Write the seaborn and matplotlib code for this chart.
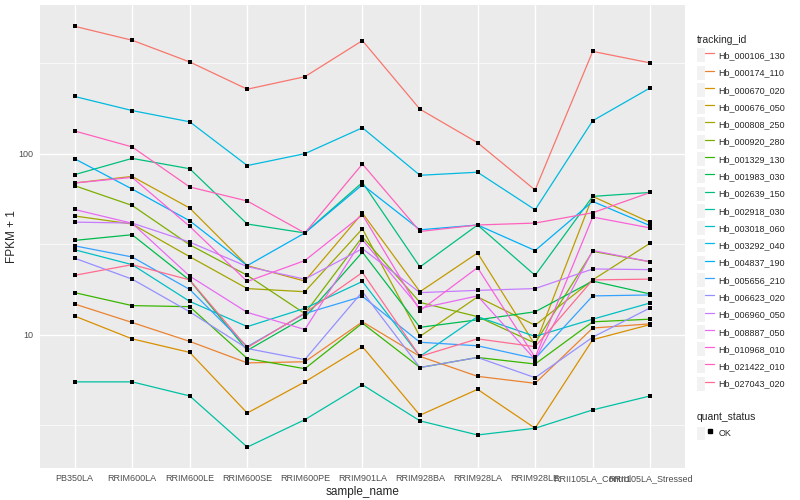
import pandas as pd
import matplotlib.pyplot as plt
import seaborn as sns
from matplotlib.lines import Line2D
from matplotlib.patches import Patch
from matplotlib.legend_handler import HandlerTuple
from matplotlib.ticker import NullFormatter

# --- Data (FPKM + 1, one value per sample) ---
samples = ['PB350LA', 'RRIM600LA', 'RRIM600LE', 'RRIM600SE', 'RRIM600PE', 'RRIM901LA',
           'RRIM928BA', 'RRIM928LA', 'RRIM928LE', 'RRII105LA_Control', 'RRII105LA_Stressed']

tracking_ids = ['Hb_000106_130', 'Hb_000174_110', 'Hb_000670_020', 'Hb_000676_050',
                'Hb_000808_250', 'Hb_000920_280', 'Hb_001329_130', 'Hb_001983_030',
                'Hb_002639_150', 'Hb_002918_030', 'Hb_003018_060', 'Hb_003292_040',
                'Hb_004837_190', 'Hb_005656_210', 'Hb_006623_020', 'Hb_006960_050',
                'Hb_008887_050', 'Hb_010968_010', 'Hb_021422_010', 'Hb_027043_020']

hb_000106_130 = [505, 423, 321, 227, 266, 421, 176, 115, 63, 367, 317]
hb_000174_110 = [14.8, 11.7, 9.2, 7.0, 7.1, 11.8, 7.6, 5.9, 5.4, 10.9, 11.5]
hb_000670_020 = [12.7, 9.5, 8.0, 3.7, 5.5, 8.6, 3.6, 5.0, 3.05, 9.4, 11.4]
hb_000676_050 = [68.9, 74.9, 50.1, 24.1, 19.8, 47.0, 17.3, 28.3, 8.8, 58.1, 41.7]
hb_000808_250 = [45.3, 40.9, 27.0, 18.0, 17.3, 38.5, 9.8, 16.2, 11.3, 20.1, 32.1]
hb_000920_280 = [66.6, 51.8, 31.4, 21.3, 13.1, 34.7, 15.1, 12.6, 9.0, 28.9, 25.3]
hb_001329_130 = [17.1, 14.5, 14.3, 7.4, 6.5, 11.6, 6.6, 7.5, 6.9, 11.8, 12.2]
hb_001983_030 = [33.2, 35.7, 20.0, 8.2, 12.5, 28.6, 11.0, 12.1, 13.4, 19.8, 16.8]
hb_002639_150 = [76.6, 94.2, 82.6, 40.9, 36.5, 69.4, 23.7, 40.4, 21.3, 58.1, 61.1]
hb_002918_030 = [5.5, 5.5, 4.6, 2.4, 3.4, 5.3, 3.35, 2.8, 3.05, 3.85, 4.6]
hb_003018_060 = [29.5, 24.4, 15.3, 11.1, 14.0, 19.7, 7.6, 12.6, 9.8, 12.2, 15.0]
hb_003292_040 = [207, 173, 150, 86, 100, 139, 76, 79, 49, 152, 231]
hb_004837_190 = [93.8, 63.8, 42.6, 24.1, 36.5, 67.4, 38.0, 40.4, 29.2, 54.5, 40.0]
hb_005656_210 = [31.0, 26.9, 17.8, 8.6, 13.1, 16.3, 9.1, 8.7, 7.4, 16.4, 16.6]
hb_006623_020 = [26.5, 20.3, 13.4, 8.4, 7.3, 17.3, 6.6, 7.5, 5.8, 9.7, 14.1]
hb_006960_050 = [41.9, 41.4, 32.5, 23.8, 20.3, 29.9, 17.1, 17.6, 18.0, 23.1, 22.9]
hb_008887_050 = [49.2, 41.3, 21.1, 13.3, 10.7, 33.5, 14.0, 16.4, 7.3, 29.2, 25.3]
hb_010968_010 = [68.9, 74.0, 39.7, 19.7, 25.7, 46.0, 13.6, 23.5, 7.5, 44.7, 38.9]
hb_021422_010 = [133.5, 109, 65.5, 54.8, 36.5, 87.7, 37.2, 40.4, 41.4, 47.2, 61.1]
hb_027043_020 = [21.3, 24.4, 20.1, 8.5, 13.2, 22.1, 7.6, 9.5, 8.6, 20.1, 20.3]

series = [hb_000106_130, hb_000174_110, hb_000670_020, hb_000676_050, hb_000808_250,
          hb_000920_280, hb_001329_130, hb_001983_030, hb_002639_150, hb_002918_030,
          hb_003018_060, hb_003292_040, hb_004837_190, hb_005656_210, hb_006623_020,
          hb_006960_050, hb_008887_050, hb_010968_010, hb_021422_010, hb_027043_020]

# ggplot default hue palette for 20 levels
colors = ['#F8766D', '#EA8331', '#D89000', '#C09B00', '#A3A500', '#7CAE00', '#39B600',
          '#00BB4E', '#00BF7D', '#00C1A3', '#00BFC4', '#00BAE0', '#00B0F6', '#35A2FF',
          '#9590FF', '#C77CFF', '#E76BF3', '#FA62DB', '#FF62BC', '#FF6C91']

rows = []
for tid, vals in zip(tracking_ids, series):
    for s, v in zip(samples, vals):
        rows.append((tid, s, v))
df = pd.DataFrame(rows, columns=['tracking_id', 'sample_name', 'fpkm'])
df['quant_status'] = 'OK'

# --- Plot ---
sns.set_theme(style='darkgrid', rc={'axes.facecolor': '#EBEBEB'})
plt.rcParams['font.family'] = ['Liberation Sans', 'DejaVu Sans']

fig, ax = plt.subplots(figsize=(8, 5), dpi=100)
fig.subplots_adjust(left=0.05, right=0.856, bottom=0.064, top=0.99)

sns.lineplot(data=df, x='sample_name', y='fpkm', hue='tracking_id', hue_order=tracking_ids,
             palette=colors, sort=False, estimator=None, linewidth=0.9, legend=False, ax=ax)
sns.scatterplot(data=df, x='sample_name', y='fpkm', color='black', marker='s', s=9,
                linewidth=0, legend=False, ax=ax, zorder=3)

ax.set_yscale('log')
ax.set_ylim(1.84, 662)
ax.set_xlim(-0.6, 10.6)
ax.set_yticks([10, 100], labels=['10', '100'])
ax.set_yticks([10 ** 0.5, 10 ** 1.5, 10 ** 2.5], minor=True)
ax.yaxis.set_minor_formatter(NullFormatter())
ax.tick_params(axis='y', which='minor', length=0)
ax.grid(which='major', color='white', linewidth=1.0)
ax.grid(which='minor', axis='y', color='white', linewidth=0.5)
ax.tick_params(which='major', length=3, width=0.6, color='#333333', labelsize=6.5,
               labelcolor='#4D4D4D', pad=1.5)
for sp in ax.spines.values():
    sp.set_visible(False)

ax.set_xlabel('sample_name', fontsize=8.5, labelpad=2)
ax.set_ylabel('FPKM + 1', fontsize=8.5, va='center')
ax.yaxis.set_label_coords(-0.043, 0.5)

# Legends
hmap = {tuple: HandlerTuple(ndivide=None, pad=0)}
handles = [(Patch(facecolor='#F2F2F2', edgecolor='none'), Line2D([], [], color=c, linewidth=0.9))
           for c in colors]
fig.legend(handles, tracking_ids, handler_map=hmap, loc='upper left',
           bbox_to_anchor=(0.871, 0.93), frameon=False, title='tracking_id',
           fontsize=6.5, title_fontsize=7.5, alignment='left', handlelength=1.9,
           handleheight=2.0, labelspacing=0.37, handletextpad=0.5, borderaxespad=0,
           borderpad=0)

ok_handle = (Patch(facecolor='#F2F2F2', edgecolor='none'),
             Line2D([], [], marker='s', color='black', linestyle='none', markersize=2.5))
fig.legend([ok_handle], ['OK'], handler_map=hmap, loc='upper left',
           bbox_to_anchor=(0.871, 0.176), frameon=False, title='quant_status',
           fontsize=6.5, title_fontsize=7.5, alignment='left', handlelength=1.9,
           handleheight=2.0, handletextpad=0.5, borderaxespad=0, borderpad=0)

fig.savefig('out.png', dpi=100)
